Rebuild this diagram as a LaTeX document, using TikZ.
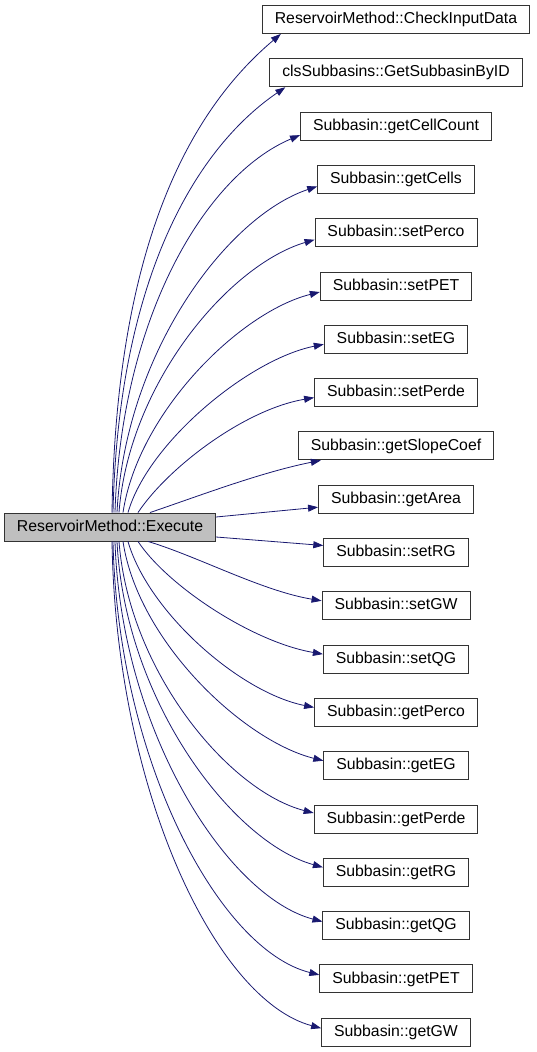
\documentclass[tikz,border=0pt]{standalone}
\usepackage{fontspec}
\setmainfont{Liberation Sans}
\usetikzlibrary{arrows.meta, positioning}

\definecolor{edgeblue}{HTML}{191970}
\definecolor{boxgray}{HTML}{BFBFBF}

\begin{document}
\begin{tikzpicture}[
    x=1pt, y=1pt,
    node distance=24.4pt,
    font=\fontsize{15.8}{18}\selectfont,
    fn/.style={rectangle, draw=black!80, line width=0.9pt, fill=white, inner xsep=12.5pt, minimum height=28pt, text height=11.5pt, text depth=3.3pt},
    fnmain/.style={fn, fill=boxgray},
    line/.style={-{Triangle[length=10pt, width=7pt]}, draw=edgeblue, line width=0.8pt}
]
\useasboundingbox (0,0) rectangle (536,-1052);

\node[fnmain] (exec) at (110,-527) {ReservoirMethod::Execute};

\node[fn] (chkinput) at (396,-19.5) {ReservoirMethod::CheckInputData};
\node[fn, below=of chkinput] (getsubid) {clsSubbasins::GetSubbasinByID};
\node[fn, below=of getsubid] (cellcount) {Subbasin::getCellCount};
\node[fn, below=of cellcount] (getcells) {Subbasin::getCells};
\node[fn, below=of getcells] (setperco) {Subbasin::setPerco};
\node[fn, below=of setperco] (setpet) {Subbasin::setPET};
\node[fn, below=of setpet] (seteg) {Subbasin::setEG};
\node[fn, below=of seteg] (setperde) {Subbasin::setPerde};
\node[fn, below=of setperde] (slopecoef) {Subbasin::getSlopeCoef};
\node[fn, below=of slopecoef] (getarea) {Subbasin::getArea};
\node[fn, below=of getarea] (setrg) {Subbasin::setRG};
\node[fn, below=of setrg] (setgw) {Subbasin::setGW};
\node[fn, below=of setgw] (setqg) {Subbasin::setQG};
\node[fn, below=of setqg] (getperco) {Subbasin::getPerco};
\node[fn, below=of getperco] (geteg) {Subbasin::getEG};
\node[fn, below=of geteg] (getperde) {Subbasin::getPerde};
\node[fn, below=of getperde] (getrg) {Subbasin::getRG};
\node[fn, below=of getrg] (getqg) {Subbasin::getQG};
\node[fn, below=of getqg] (getpet) {Subbasin::getPET};
\node[fn, below=of getpet] (getgw) {Subbasin::getGW};

% calls leaving the top of the caller
\draw[line] ([xshift=2pt]exec.north) .. controls +(4,260) and +(-95,-80) .. ([xshift=19pt]chkinput.south west);
\draw[line] ([xshift=3pt]exec.north) .. controls +(5,225) and +(-95,-65) .. ([xshift=16pt]getsubid.south west);
\draw[line] ([xshift=5pt]exec.north) .. controls +(6,195) and +(-95,-40) .. ([yshift=-9pt]cellcount.west);
\draw[line] ([xshift=7pt]exec.north) .. controls +(8,160) and +(-90,-30) .. ([yshift=-7pt]getcells.west);
\draw[line] ([xshift=9pt]exec.north) .. controls +(10,130) and +(-85,-25) .. ([yshift=-7pt]setperco.west);
\draw[line] ([xshift=13pt]exec.north) .. controls +(15,100) and +(-80,-20) .. ([yshift=-6pt]setpet.west);
\draw[line] ([xshift=18pt]exec.north) .. controls +(20,70) and +(-75,-15) .. ([yshift=-5pt]seteg.west);
\draw[line] ([xshift=28pt]exec.north) .. controls +(30,45) and +(-70,-12) .. ([yshift=-5pt]setperde.west);
\draw[line] ([xshift=40pt]exec.north) .. controls +(50,17) and +(-60,-12) .. ([xshift=23pt]slopecoef.south west);

% calls leaving the side of the caller
\draw[line] ([yshift=10pt]exec.east) -- ([yshift=-8pt]getarea.west);
\draw[line] ([yshift=-10pt]exec.east) -- ([yshift=7pt]setrg.west);

% calls leaving the bottom of the caller
\draw[line] ([xshift=38pt]exec.south) .. controls +(50,-15) and +(-60,10) .. ([yshift=5pt]setgw.west);
\draw[line] ([xshift=28pt]exec.south) .. controls +(30,-45) and +(-70,12) .. ([yshift=5pt]setqg.west);
\draw[line] ([xshift=18pt]exec.south) .. controls +(20,-70) and +(-75,15) .. ([yshift=5pt]getperco.west);
\draw[line] ([xshift=13pt]exec.south) .. controls +(15,-100) and +(-80,20) .. ([yshift=5pt]geteg.west);
\draw[line] ([xshift=9pt]exec.south) .. controls +(10,-130) and +(-85,22) .. ([yshift=6pt]getperde.west);
\draw[line] ([xshift=7pt]exec.south) .. controls +(8,-160) and +(-90,25) .. ([yshift=5pt]getrg.west);
\draw[line] ([xshift=5pt]exec.south) .. controls +(6,-190) and +(-95,25) .. ([yshift=4pt]getqg.west);
\draw[line] ([xshift=3pt]exec.south) .. controls +(5,-220) and +(-100,25) .. ([yshift=4pt]getpet.west);
\draw[line] ([xshift=2pt]exec.south) .. controls +(4,-250) and +(-105,28) .. ([yshift=4pt]getgw.west);
\end{tikzpicture}
\end{document}
